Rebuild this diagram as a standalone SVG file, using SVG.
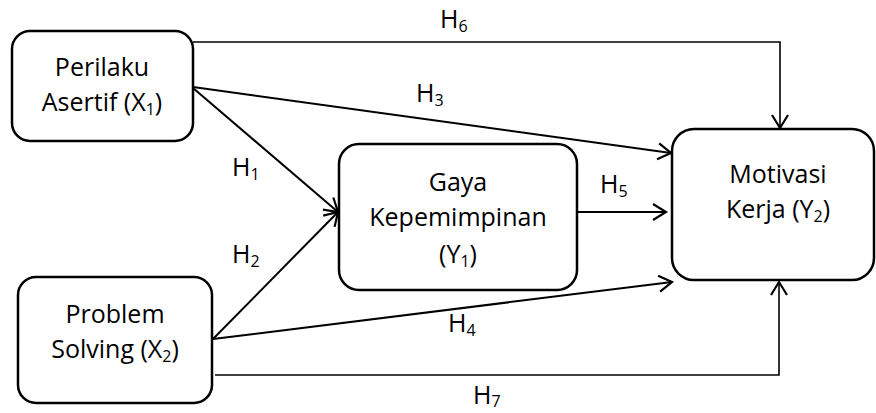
<svg xmlns="http://www.w3.org/2000/svg" width="876" height="413" viewBox="0 0 876 413">
<style>
.box{fill:#fff;stroke:#000;stroke-width:2.5}
.t{font-family:"Open Sans","Noto Sans",sans-serif;font-size:25px;fill:#000}
.c{text-anchor:middle}
.sub{font-size:16px}
.ln{fill:none;stroke:#000;stroke-width:2}
.thin{fill:none;stroke:#000;stroke-width:1.6}
</style>
<defs>
<marker id="ah" markerUnits="userSpaceOnUse" markerWidth="30" markerHeight="30" refX="15" refY="15" orient="auto" overflow="visible">
<path d="M2,7 L15,15 L2,23" fill="none" stroke="#000" stroke-width="2.2"/>
</marker>
</defs>
<rect width="876" height="413" fill="#fff"/>
<g id="connectors">
<polyline class="thin" points="193,42 780,42 780,128" marker-end="url(#ah)"/>
<line class="ln" x1="193" y1="87" x2="671" y2="153" marker-end="url(#ah)"/>
<line class="ln" x1="193" y1="88" x2="338" y2="212" marker-end="url(#ah)"/>
<line class="ln" x1="213" y1="339" x2="338" y2="212" marker-end="url(#ah)"/>
<line class="ln" x1="213" y1="339" x2="672" y2="282" marker-end="url(#ah)"/>
<line class="ln" x1="578" y1="212" x2="666" y2="212" marker-end="url(#ah)"/>
<polyline class="thin" points="215,375 779,375 779,282" marker-end="url(#ah)"/>
</g>
<g id="n1">
<rect class="box" x="12" y="31" width="181" height="110" rx="18"/>
<text class="t c" x="102" y="76">Perilaku</text>
<text class="t c" x="102" y="111">Asertif (X<tspan class="sub" dy="4">1</tspan><tspan dy="-4">)</tspan></text>
</g>
<g id="n2">
<rect class="box" x="18" y="277" width="194" height="126" rx="18"/>
<text class="t c" x="115" y="323">Problem</text>
<text class="t c" x="115" y="358">Solving (X<tspan class="sub" dy="4">2</tspan><tspan dy="-4">)</tspan></text>
</g>
<g id="n3">
<rect class="box" x="339" y="144" width="238" height="146" rx="20"/>
<text class="t c" x="458" y="191">Gaya</text>
<text class="t c" x="458" y="226">Kepemimpinan</text>
<text class="t c" x="458" y="263">(Y<tspan class="sub" dy="4">1</tspan><tspan dy="-4">)</tspan></text>
</g>
<g id="n4">
<rect class="box" x="672" y="129" width="202" height="151" rx="22"/>
<text class="t c" x="778" y="183">Motivasi</text>
<text class="t c" x="778" y="218">Kerja (Y<tspan class="sub" dy="4">2</tspan><tspan dy="-4">)</tspan></text>
</g>
<g id="labels">
<text class="t" x="440" y="28">H<tspan class="sub" dy="4">6</tspan></text>
<text class="t" x="416" y="102">H<tspan class="sub" dy="4">3</tspan></text>
<text class="t" x="232" y="176">H<tspan class="sub" dy="4">1</tspan></text>
<text class="t" x="232" y="263">H<tspan class="sub" dy="4">2</tspan></text>
<text class="t" x="600" y="193">H<tspan class="sub" dy="4">5</tspan></text>
<text class="t" x="448" y="332">H<tspan class="sub" dy="4">4</tspan></text>
<text class="t" x="473" y="404">H<tspan class="sub" dy="3">7</tspan></text>
</g>
</svg>
